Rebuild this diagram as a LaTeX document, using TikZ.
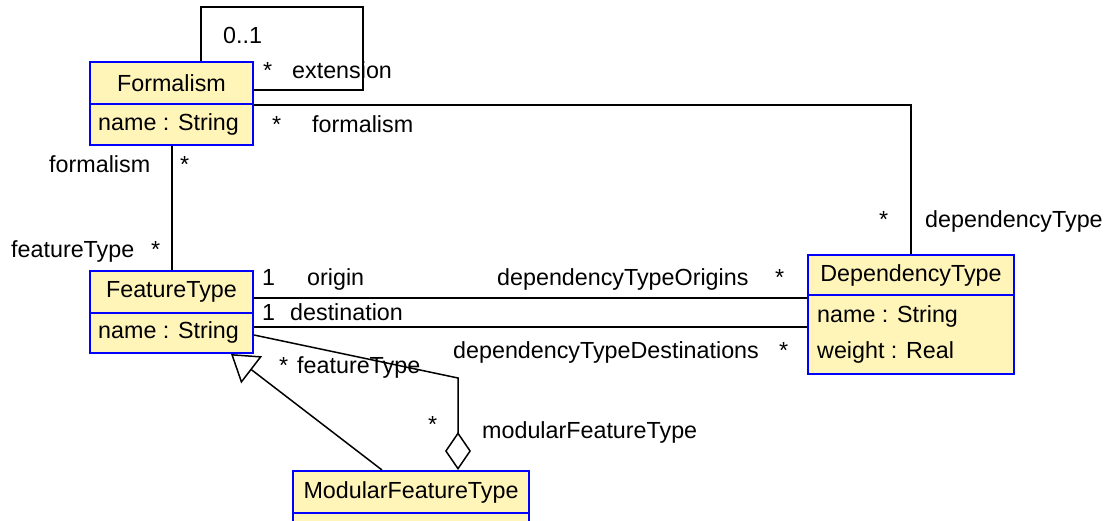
\documentclass[tikz,border=0pt]{standalone}
\usepackage{fontspec}
\setmainfont{Liberation Sans}
\usetikzlibrary{arrows.meta}
\definecolor{classfill}{RGB}{255,245,185}
\definecolor{classline}{RGB}{0,0,255}

\begin{document}
\begin{tikzpicture}[x=1pt,y=-1pt,
  every node/.style={font=\fontsize{23.3}{36}\selectfont, inner sep=0pt},
  classpart/.style={draw=classline, fill=classfill, line width=2pt, anchor=north west},
  link/.style={line width=1.5pt, draw=black},
  lbl/.style={anchor=base west},
  aggregation/.style={link, -{Diamond[open, length=38pt, width=26pt]}},
  generalization/.style={link, -{Triangle[open, length=26pt, width=34pt]}},
]
\useasboundingbox (0,0) rectangle (1112,520);
\clip (0,0) rectangle (1112,520);

% ---- classes: name compartment, attribute compartment ----
\node[classpart, minimum width=163pt, minimum height=42pt] (formH) at (89,61) {Formalism};
\node[classpart, minimum width=163pt, minimum height=41pt] (formA) at (89,103) {};
\node[lbl] (formAttr) at (98,130) {name : String};

\node[classpart, minimum width=163pt, minimum height=42pt] (ftH) at (89,270) {FeatureType};
\node[classpart, minimum width=163pt, minimum height=40pt] (ftA) at (89,312) {};
\node[lbl] (ftAttr) at (98,338) {name : String};

\node[classpart, minimum width=206pt, minimum height=40pt] (depH) at (807,254) {DependencyType};
\node[classpart, minimum width=206pt, minimum height=79pt] (depA) at (807,294) {};
\node[lbl] (depAttrA) at (817,322) {name : String};
\node[lbl] (depAttrB) at (817,358) {weight : Real};

\node[classpart, minimum width=236pt, minimum height=42pt] (mfH) at (292,470) {ModularFeatureType};
\node[classpart, minimum width=236pt, minimum height=30pt] (mfA) at (292,512) {};

% ---- associations ----
\coordinate (selfTL) at (201,7);
\coordinate (selfBR) at (363,90);
\draw[link] (formH.north -| selfTL) -- (selfTL) -| (selfBR) -- (selfBR -| formH.east);

\draw[link] (formH.south east) -| (depH.north);
\draw[link] (formA.south -| 172,0) -- (ftH.north -| 172,0);

\draw[link] (ftH.east |- 0,298) -- (depA.west |- 0,298);
\draw[link] (ftA.east |- 0,327) -- (depA.west |- 0,327);

\coordinate (aggBend) at (458,378);
\draw[aggregation] (ftA.east |- 0,335) -- (aggBend) -- (mfH.north -| aggBend);

\draw[generalization] (mfH.north -| 382,0) -- (ftA.south -| 231,0);

% ---- role names and multiplicities ----
\node[lbl] (selfMulA) at (223,43) {0..1};
\node[lbl] (selfMulB) at (263,78) {*};
\node[lbl] (selfRole) at (292,78) {extension};

\node[lbl] (fdMulA) at (272,132) {*};
\node[lbl] (fdRoleA) at (312,132) {formalism};
\node[lbl] (fdMulB) at (879,227) {*};
\node[lbl] (fdRoleB) at (925,227) {dependencyType};

\node[lbl] (ffRoleA) at (49,172) {formalism};
\node[lbl] (ffMulA) at (180,172) {*};
\node[lbl] (ffRoleB) at (11,257) {featureType};
\node[lbl] (ffMulB) at (151,257) {*};

\node[lbl] (orMul) at (262,285) {1};
\node[lbl] (orRole) at (307,285) {origin};
\node[lbl] (orRoleB) at (497,285) {dependencyTypeOrigins};
\node[lbl] (orMulB) at (775,285) {*};

\node[lbl] (deMul) at (262,320) {1};
\node[lbl] (deRole) at (290,320) {destination};
\node[lbl] (deRoleB) at (453,358) {dependencyTypeDestinations};
\node[lbl] (deMulB) at (779,358) {*};

\node[lbl] (agMulA) at (279,373) {*};
\node[lbl] (agRoleA) at (297,373) {featureType};
\node[lbl] (agMulB) at (428,432) {*};
\node[lbl] (agRoleB) at (482,438) {modularFeatureType};
\end{tikzpicture}
\end{document}
